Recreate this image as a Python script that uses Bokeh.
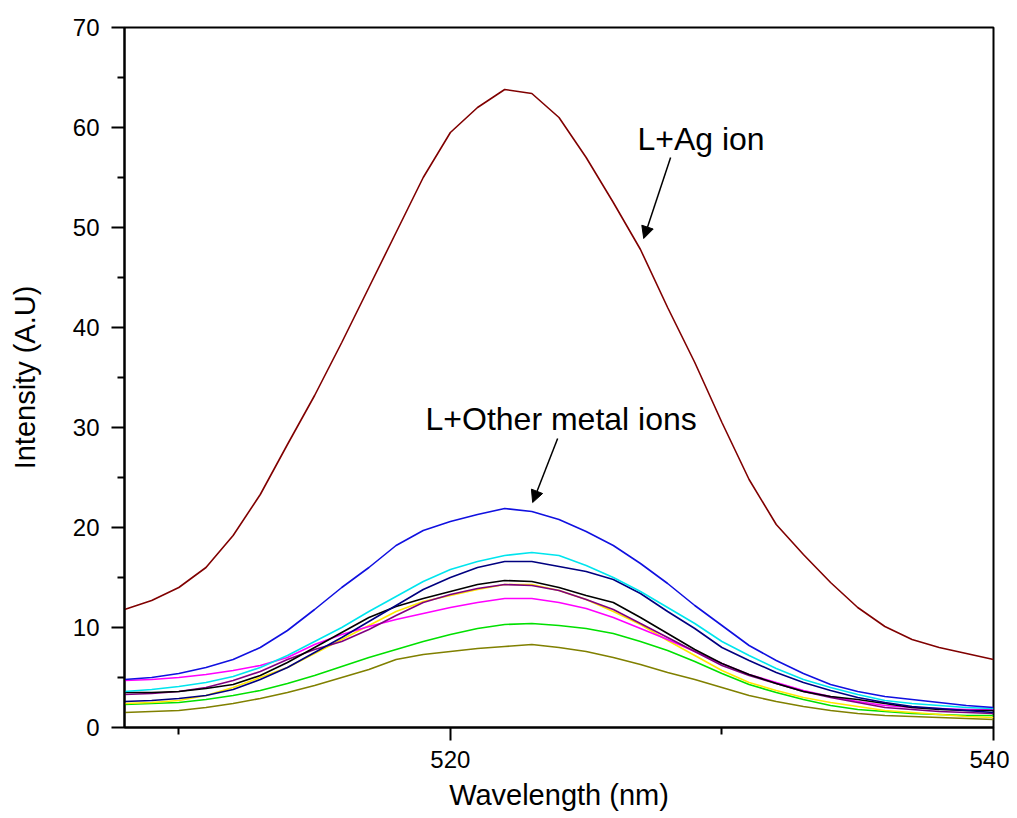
from bokeh.plotting import figure
from bokeh.models import FixedTicker, Arrow, NormalHead, Label, Range1d
from bokeh.embed import file_html
from bokeh.resources import INLINE

wavelength = list(range(508, 541))

ag_ion = [11.8, 12.7, 14.0, 16.0, 19.2, 23.3, 28.3, 33.2, 38.5, 44.0, 49.5,
          55.0, 59.5, 62.0, 63.8, 63.4, 61.0, 57.0, 52.5, 47.8, 42.0, 36.5,
          30.5, 24.8, 20.3, 17.3, 14.5, 12.0, 10.1, 8.8, 8.0, 7.4, 6.8]
blue = [4.8, 5.0, 5.4, 6.0, 6.8, 8.0, 9.7, 11.8, 14.0, 16.0, 18.2, 19.7,
        20.6, 21.3, 21.9, 21.6, 20.8, 19.6, 18.2, 16.4, 14.4, 12.2, 10.2,
        8.2, 6.7, 5.4, 4.3, 3.6, 3.1, 2.8, 2.5, 2.2, 2.0]
cyan = [3.6, 3.8, 4.1, 4.5, 5.1, 6.0, 7.2, 8.6, 10.0, 11.6, 13.1, 14.6,
        15.8, 16.6, 17.2, 17.5, 17.2, 16.2, 15.0, 13.6, 12.0, 10.4, 8.6,
        7.2, 5.9, 4.8, 4.0, 3.3, 2.7, 2.4, 2.2, 2.0, 1.9]
navy = [2.6, 2.7, 2.9, 3.2, 3.8, 4.8, 6.0, 7.5, 9.0, 10.6, 12.2, 13.8,
        15.0, 16.0, 16.6, 16.6, 16.1, 15.6, 14.8, 13.4, 11.6, 9.9, 8.0,
        6.7, 5.5, 4.5, 3.7, 3.0, 2.5, 2.1, 1.9, 1.7, 1.5]
black = [3.5, 3.5, 3.6, 3.9, 4.3, 5.2, 6.5, 8.0, 9.5, 11.0, 12.1, 12.9,
         13.6, 14.3, 14.7, 14.6, 14.0, 13.2, 12.5, 11.0, 9.4, 7.8, 6.4,
         5.3, 4.4, 3.6, 3.1, 2.8, 2.4, 2.0, 1.8, 1.7, 1.7]
yellow = [2.4, 2.5, 2.7, 3.2, 4.0, 5.0, 6.0, 7.4, 8.8, 10.2, 11.6, 12.6,
          13.2, 13.8, 14.3, 14.3, 13.7, 12.8, 11.6, 10.3, 8.7, 7.2, 5.7,
          4.5, 3.7, 3.0, 2.5, 2.1, 1.7, 1.5, 1.3, 1.1, 1.0]
purple = [3.3, 3.4, 3.6, 4.0, 4.7, 5.6, 6.8, 7.8, 8.6, 9.8, 11.2, 12.5,
          13.3, 13.9, 14.3, 14.2, 13.7, 12.8, 11.8, 10.4, 9.0, 7.6, 6.2,
          5.2, 4.4, 3.6, 3.0, 2.5, 2.0, 1.8, 1.6, 1.5, 1.4]
magenta = [4.7, 4.8, 5.0, 5.3, 5.7, 6.2, 7.0, 8.3, 9.3, 10.1, 10.8, 11.4,
           12.0, 12.5, 12.9, 12.9, 12.5, 11.9, 11.0, 9.9, 8.8, 7.6, 6.4,
           5.3, 4.5, 3.7, 3.1, 2.6, 2.2, 2.0, 1.9, 1.8, 1.8]
green = [2.3, 2.4, 2.5, 2.8, 3.2, 3.7, 4.4, 5.2, 6.1, 7.0, 7.8, 8.6, 9.3,
         9.9, 10.3, 10.4, 10.2, 9.9, 9.4, 8.6, 7.7, 6.6, 5.4, 4.3, 3.5,
         2.8, 2.2, 1.8, 1.6, 1.4, 1.3, 1.2, 1.2]
olive = [1.5, 1.6, 1.7, 2.0, 2.4, 2.9, 3.5, 4.2, 5.0, 5.8, 6.8, 7.3, 7.6,
         7.9, 8.1, 8.3, 8.0, 7.6, 7.0, 6.3, 5.5, 4.8, 4.0, 3.2, 2.6, 2.1,
         1.7, 1.4, 1.2, 1.1, 1.0, 0.9, 0.8]

series = [
    (olive, "#808000"),
    (green, "#00E000"),
    (yellow, "#FFE800"),
    (magenta, "#FF00FF"),
    (purple, "#800080"),
    (black, "#000000"),
    (navy, "#000080"),
    (cyan, "#00E5EE"),
    (blue, "#1010E0"),
    (ag_ion, "#800000"),
]

x_major = [520, 540]
x_minor = [510, 530]
y_major = [0, 10, 20, 30, 40, 50, 60, 70]
y_minor = [5, 15, 25, 35, 45, 55, 65]

FONT = "Liberation Sans"

p = figure(width=1009, height=818, output_backend="svg", toolbar_location=None,
           x_range=Range1d(508, 540), y_range=Range1d(0, 70),
           min_border_left=124, min_border_right=16, min_border_top=27,
           min_border_bottom=91)
p.grid.visible = False
p.background_fill_color = "white"
p.border_fill_color = "white"
p.outline_line_color = "black"
p.outline_line_width = 2

for ys, col in series:
    p.line(wavelength, ys, line_color=col, line_width=1.6)

p.xaxis.ticker = FixedTicker(ticks=x_major, minor_ticks=x_minor)
p.yaxis.ticker = FixedTicker(ticks=y_major, minor_ticks=y_minor)
for ax in (p.xaxis[0], p.yaxis[0]):
    ax.axis_line_width = 2
    ax.axis_line_color = "black"
    ax.major_tick_line_width = 2
    ax.minor_tick_line_width = 2
    ax.major_tick_in = 0
    ax.minor_tick_in = 0
    ax.major_tick_out = 13
    ax.minor_tick_out = 7
    ax.major_label_text_font = FONT
    ax.major_label_text_font_size = "24px"
    ax.major_label_text_color = "black"
    ax.axis_label_text_font = FONT
    ax.axis_label_text_font_style = "normal"
    ax.axis_label_text_color = "black"
p.xaxis.axis_label = "Wavelength (nm)"
p.yaxis.axis_label = "Intensity (A.U)"
p.xaxis.axis_label_text_font_size = "29px"
p.yaxis.axis_label_text_font_size = "29px"
p.xaxis.major_label_standoff = 10
p.xaxis.axis_label_standoff = 8
p.yaxis.major_label_standoff = 12
p.yaxis.axis_label_standoff = 29

p.add_layout(Label(x=529.23, y=58.9, text="L+Ag ion", text_font=FONT,
                   text_font_size="32px", text_align="center",
                   text_baseline="middle", text_color="black"))
p.add_layout(Label(x=524.08, y=30.9, text="L+Other metal ions", text_font=FONT,
                   text_font_size="32px", text_align="center",
                   text_baseline="middle", text_color="black"))
p.add_layout(Arrow(x_start=528.11, y_start=57.0, x_end=527.12, y_end=48.9,
                   line_width=1.5, line_color="black",
                   end=NormalHead(size=12, fill_color="black", line_color="black")))
p.add_layout(Arrow(x_start=523.95, y_start=28.9, x_end=523.03, y_end=22.5,
                   line_width=1.5, line_color="black",
                   end=NormalHead(size=12, fill_color="black", line_color="black")))

open("out.html", "w").write(file_html(p, INLINE))
